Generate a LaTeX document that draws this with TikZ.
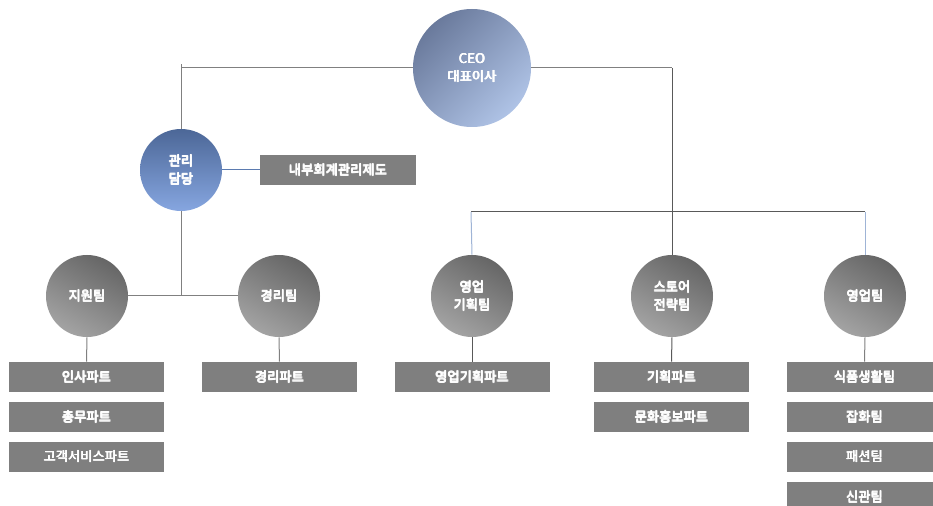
\documentclass[tikz,border=0pt]{standalone}
\usepackage{fontspec}
\setmainfont{Noto Sans CJK KR}
\newcommand\bt[1]{\leavevmode\rlap{#1}\rlap{\kern0.45pt#1}\rlap{\raisebox{0.3pt}{#1}}\raisebox{0.3pt}{\kern0.45pt#1}}
\definecolor{boxgray}{HTML}{7F7F7F}
\definecolor{linegray}{HTML}{808080}
\definecolor{darkline}{HTML}{595959}
\definecolor{blueline}{HTML}{5B7BB0}
\definecolor{lightblueline}{HTML}{9FB4D6}
\definecolor{ceoA}{HTML}{6A7A9C}
\definecolor{ceoB}{HTML}{AFC3E6}
\definecolor{mgA}{HTML}{4C6797}
\definecolor{mgB}{HTML}{86A6E0}
\definecolor{teamA}{HTML}{666666}
\definecolor{teamB}{HTML}{A3A3A3}
\tikzset{
  partbox/.style={draw=none, fill=boxgray, minimum width=155*0.75pt, minimum height=30*0.75pt,
    inner sep=0pt, text=white, font=\fontsize{10}{12}\selectfont},
  teamcircle/.style={circle, minimum size=82*0.75pt, inner sep=0pt, text=white,
    left color=teamA, right color=teamB, shading angle=-30,
    align=center, font=\fontsize{10}{13.5}\selectfont},
  conn/.style={draw=linegray, line width=0.75pt},
  dconn/.style={draw=darkline, line width=0.75pt},
}
\begin{document}
\begin{tikzpicture}[x=0.75pt, y=-0.75pt]
\clip (0,0) rectangle (933,506);
\fill[white] (0,0) rectangle (933,506);
% top level
\node[circle, minimum size=118*0.75pt, inner sep=0pt, text=white, align=center,
  left color=ceoA, right color=ceoB, shading angle=45,
  font=\fontsize{10}{13.5}\selectfont] (ceo) at (472,68) {\bt{CEO}\\\bt{대표이사}};
\node[circle, minimum size=82*0.75pt, inner sep=0pt, text=white, align=center,
  top color=mgA, bottom color=mgB,
  font=\fontsize{10}{13.5}\selectfont] (mg) at (181,170) {\bt{관리}\\\bt{담당}};
\node[partbox, minimum width=156*0.75pt] (ic) at (338,170) {\bt{내부회계관리제도}};
% teams
\node[teamcircle] (jw) at (87,296) {\bt{지원팀}};
\node[teamcircle] (gr) at (279,296) {\bt{경리팀}};
\node[teamcircle] (yg) at (472,296) {\bt{영업}\\\bt{기획팀}};
\node[teamcircle] (st) at (672,296) {\bt{스토어}\\\bt{전략팀}};
\node[teamcircle] (yt) at (865,296) {\bt{영업팀}};
% parts
\node[partbox] (p1) at (86.5,377) {\bt{인사파트}};
\node[partbox] (p2) at (86.5,417) {\bt{총무파트}};
\node[partbox] (p3) at (86.5,456.5) {\bt{고객서비스파트}};
\node[partbox] (p4) at (279.5,377) {\bt{경리파트}};
\node[partbox] (p5) at (472,377) {\bt{영업기획파트}};
\node[partbox] (p6) at (671.5,377) {\bt{기획파트}};
\node[partbox] (p7) at (671.5,417) {\bt{문화홍보파트}};
\node[partbox] (p8) at (864.5,377) {\bt{식품생활팀}};
\node[partbox] (p9) at (864.5,417) {\bt{잡화팀}};
\node[partbox] (p10) at (864.5,456.5) {\bt{패션팀}};
\node[partbox] (p11) at (864.5,497) {\bt{신관팀}};
% coordinates
\coordinate (lt) at (181,68);
\coordinate (rt) at (672,68);
\coordinate (mj) at (181,296);
\coordinate (hl) at (471,212);
\coordinate (hr) at (865,212);
% connectors
\draw[conn] (ceo.west) -- (lt) -- (mg.north);
\draw[conn] (lt) -- ++(0,-4);
\draw[conn] (ceo.east) -- (rt);
\draw[dconn] (rt) -- (st.north);
\draw[dconn] (hl) -- (hr);
\draw[draw=lightblueline, line width=0.75pt] (hl) -- (yg.north);
\draw[draw=lightblueline, line width=0.75pt] (hr) -- (yt.north);
\draw[draw=blueline, line width=0.75pt] (mg.east) -- (ic.west);
\draw[conn] (mg.south) -- (mj);
\draw[conn] (jw.east) -- (gr.west);
\draw[conn] (jw.south) -- (p1.north);
\draw[conn] (gr.south) -- (p4.north);
\draw[dconn] (yg.south) -- (p5.north);
\draw[dconn] (st.south) -- (p6.north);
\draw[conn] (yt.south) -- (p8.north);
\end{tikzpicture}
\end{document}
